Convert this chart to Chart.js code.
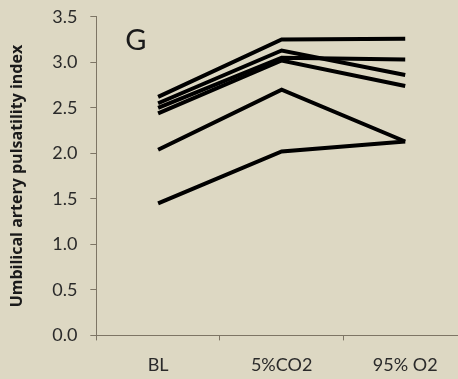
<!DOCTYPE html>
<html>
<head>
<meta charset="utf-8">
<script src="https://cdn.jsdelivr.net/npm/chart.js@4/dist/chart.umd.min.js"></script>
<style>
  html, body { margin: 0; padding: 0; background: #ddd8c3; overflow: hidden; }
  #container { width: 458px; height: 379px; overflow: hidden; }
  canvas { display: block; margin-top: -7px; }
</style>
</head>
<body>
<div id="container">
  <canvas id="myChart" width="470" height="386"></canvas>
</div>
<script>
const conditions = ['BL', '5%CO2', '95% O2'];
const yTicks = [0, 0.5, 1, 1.5, 2, 2.5, 3, 3.5];

// one line per subject
const subject1 = [2.62, 3.25, 3.26];
const subject2 = [2.55, 3.13, 2.86];
const subject3 = [2.50, 3.05, 3.03];
const subject4 = [2.44, 3.02, 2.74];
const subject5 = [2.04, 2.70, 2.13];
const subject6 = [1.45, 2.02, 2.13];

const subjects = [subject1, subject2, subject3, subject4, subject5, subject6];

const panelLetter = {
    id: 'panelLetter',
    afterDraw(chart) {
        const ctx = chart.ctx;
        const area = chart.chartArea;
        ctx.save();
        ctx.fillStyle = '#1a1a1a';
        ctx.font = '29px Lato';
        ctx.textBaseline = 'middle';
        ctx.fillText('G', area.left + 29, area.top + 24);
        ctx.restore();
    }
};

const ctx = document.getElementById('myChart').getContext('2d');
new Chart(ctx, {
    type: 'line',
    data: {
        labels: conditions,
        datasets: subjects.map((s, i) => {
            return {
                label: 'Subject ' + (i + 1),
                data: s,
                borderColor: '#000',
                borderWidth: 4,
                pointRadius: 0,
                tension: 0,
                fill: false
            }
        })
    },
    options: {
        responsive: false,
        animation: false,
        layout: { padding: { top: 0, right: 3, left: 8, bottom: -11 } },
        plugins: {
            legend: { display: false },
            tooltip: { enabled: false }
        },
        scales: {
            x: {
                offset: true,
                grid: {
                    offset: true,
                    drawOnChartArea: false,
                    drawTicks: true,
                    tickLength: 5,
                    color: '#7d7565'
                },
                border: { color: '#7d7565', width: 1 },
                ticks: {
                    color: '#2a2a2a',
                    font: { family: 'Lato', size: 18 },
                    padding: 14,
                    maxRotation: 0
                }
            },
            y: {
                min: 0,
                max: 3.5,
                afterBuildTicks(scale) {
                    scale.ticks = yTicks.map(v => ({ value: v }));
                },
                grid: {
                    drawOnChartArea: false,
                    drawTicks: true,
                    tickLength: 6,
                    color: '#7d7565'
                },
                border: { color: '#7d7565', width: 1 },
                ticks: {
                    color: '#2a2a2a',
                    font: { family: 'Lato', size: 18 },
                    padding: 13,
                    callback: v => Number(v).toFixed(1)
                },
                title: {
                    display: true,
                    text: 'Umbilical artery pulsatility index',
                    color: '#1a1a1a',
                    font: { family: 'Open Sans', size: 16, weight: 'bold' },
                    padding: { top: 0, bottom: 12 }
                }
            }
        }
    },
    plugins: [panelLetter]
});
</script>
</body>
</html>
